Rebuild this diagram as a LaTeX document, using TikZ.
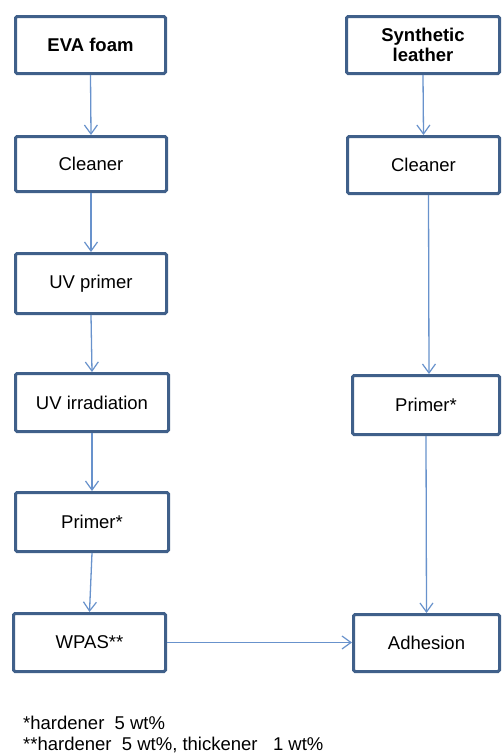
\documentclass[tikz,border=0pt]{standalone}
\usepackage{fontspec}
\setmainfont{Liberation Sans}
\usetikzlibrary{arrows.meta}
\definecolor{boxblue}{RGB}{64,96,138}
\definecolor{arrblue}{RGB}{104,146,204}
\begin{document}
\begin{tikzpicture}[x=1pt,y=-1pt,
  stepbox/.style={draw=boxblue,line width=3pt,rounded corners=1.5pt,fill=white,
    inner sep=0pt,align=center,font=\fontsize{18.5}{22}\selectfont},
  arr/.style={draw=arrblue,line width=1.3pt,-{Straight Barb[length=9pt,width=13pt,line width=1.2pt]}},
  note/.style={anchor=west,inner sep=0pt,font=\fontsize{18.5}{22}\selectfont}]
\useasboundingbox (0,0) rectangle (502,755);
\fill[white] (0,0) rectangle (502,755);
% left column
\node[stepbox,minimum width=150pt,minimum height=57pt] (eva) at (90.5,45) {\bfseries EVA foam};
\node[stepbox,minimum width=151pt,minimum height=55pt] (cl1) at (91,164) {Cleaner};
\node[stepbox,minimum width=151pt,minimum height=60pt] (uvp) at (91,283.5) {UV primer};
\node[stepbox,minimum width=153pt,minimum height=58pt] (uvi) at (92,402.5) {UV irradiation};
\node[stepbox,minimum width=153pt,minimum height=59pt] (pr1) at (92,522) {Primer*};
\node[stepbox,minimum width=152pt,minimum height=58pt] (wpas) at (89.5,642.5) {WPAS**};
% right column
\node[stepbox,minimum width=153pt,minimum height=57pt] (syn) at (423,45) {\bfseries Synthetic\\[-2pt]\bfseries leather};
\node[stepbox,minimum width=152pt,minimum height=57pt] (cl2) at (423.5,165) {Cleaner};
\node[stepbox,minimum width=147pt,minimum height=59pt] (pr2) at (426,405) {Primer*};
\node[stepbox,minimum width=146pt,minimum height=57pt] (adh) at (426.5,643) {Adhesion};
% connectors
\draw[arr] (eva.south) -- (cl1.north);
\draw[arr] (cl1.south) -- (uvp.north);
\draw[arr] (uvp.south) -- (uvi.north);
\draw[arr] (uvi.south) -- (pr1.north);
\draw[arr] (pr1.south) -- (wpas.north);
\draw[arr] (syn.south) -- (cl2.north);
\draw[arr] ([xshift=5pt]cl2.south) -- ([xshift=3pt]pr2.north);
\draw[arr] (pr2.south) -- (adh.north);
\draw[arr] (wpas.east) -- (wpas.east -| adh.west);
% notes
\node[note] (n1) at (23,723) {*hardener\ \ 5 wt\%};
\node[note] (n2) at (23,745) {**hardener\ \ 5 wt\%, thickener\ \ \ 1 wt\%};
\end{tikzpicture}
\end{document}
